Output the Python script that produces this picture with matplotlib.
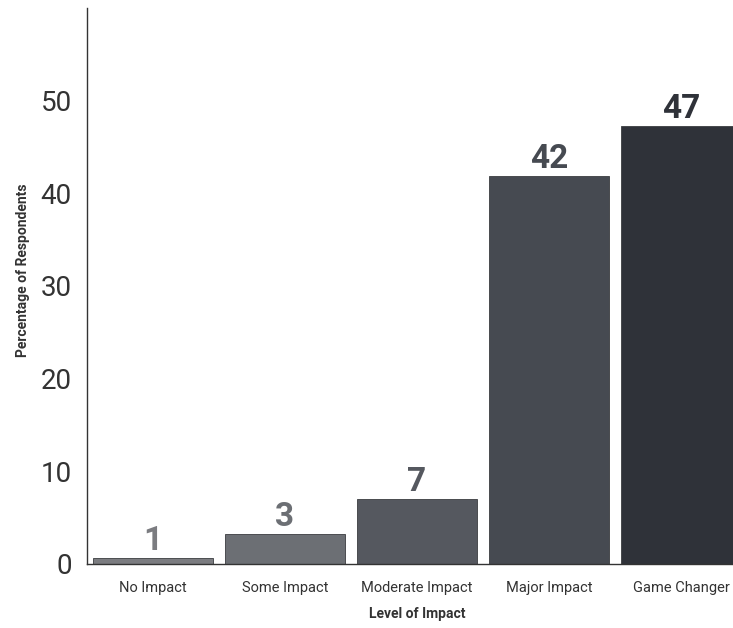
import matplotlib.pyplot as plt

categories = ['No Impact', 'Some Impact', 'Moderate Impact', 'Major Impact', 'Game Changer']
values = [0.7, 3.2, 7.0, 41.9, 47.3]
labels = ['1', '3', '7', '42', '47']
colors = ['#7b7c80', '#6c6f74', '#55585f', '#464a51', '#2f3239']
yticks = [0, 10, 20, 30, 40, 50]

plt.rcParams['font.family'] = ['Roboto', 'DejaVu Sans']

fig = plt.figure(figsize=(7.33, 6.28), dpi=100)
ax = fig.add_axes([87/733, 1 - 564/628, 660/733, 556/628])

x = range(len(categories))
bars = ax.bar(x, values, width=0.91, color=colors, edgecolor='#3a3c40', linewidth=0.6)
for b, lab, c in zip(bars, labels, colors):
    ax.text(b.get_x() + b.get_width()/2, b.get_height() + 0.1, lab,
            ha='center', va='bottom', fontsize=24, fontweight='bold', color=c)

ax.set_xlim(-0.5, 4.5)
ax.set_ylim(0, 60)
ax.set_yticks(yticks)
ax.set_yticklabels([str(t) for t in yticks], fontsize=20, color='#333333')
ax.set_xticks(list(x))
ax.set_xticklabels(categories, fontsize=10.5, color='#333333')
ax.tick_params(axis='both', length=0)
ax.tick_params(axis='x', pad=12)
ax.tick_params(axis='y', pad=11)

for s in ['top', 'right']:
    ax.spines[s].set_visible(False)
for s in ['left', 'bottom']:
    ax.spines[s].set_color('#333333')
    ax.spines[s].set_linewidth(1.0)

ax.set_xlabel('Level of Impact', fontsize=10, fontweight='bold', color='#333333', labelpad=9)
ax.set_ylabel('Percentage of Respondents', fontsize=10, fontweight='bold', color='#333333')
ax.yaxis.set_label_coords(-57/660, (564 - 270)/556)

fig.savefig('out.png', dpi=100)
